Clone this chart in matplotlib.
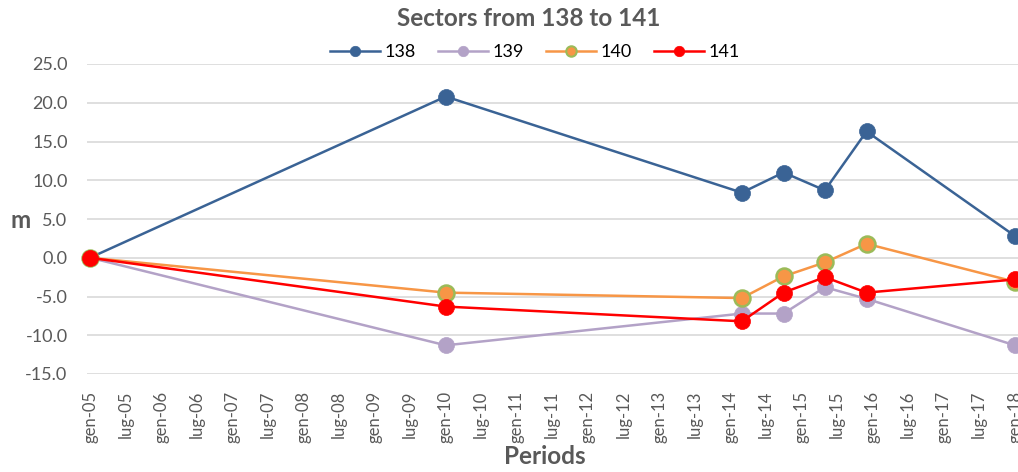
import datetime as dt
import matplotlib
matplotlib.use("Agg")
import matplotlib.pyplot as plt
import matplotlib.dates as mdates
from matplotlib.lines import Line2D

# Survey dates and measured displacement (m) per sector
dates = [dt.date(2005, 1, 1), dt.date(2010, 1, 1), dt.date(2014, 3, 1),
         dt.date(2014, 10, 1), dt.date(2015, 5, 1), dt.date(2015, 12, 1),
         dt.date(2018, 1, 1)]
s138 = [0.0, 20.8, 8.4, 11.0, 8.7, 16.3, 2.8]
s139 = [0.0, -11.3, -7.2, -7.2, -3.8, -5.3, -11.3]
s140 = [0.0, -4.5, -5.2, -2.4, -0.6, 1.8, -3.1]
s141 = [0.0, -6.3, -8.2, -4.5, -2.5, -4.5, -2.8]
series_names = ["138", "139", "140", "141"]

# Half-yearly ticks with Italian month abbreviations
tick_dates = [dt.date(y, m, 1) for y in range(2005, 2018) for m in (1, 7)] + [dt.date(2018, 1, 1)]
tick_labels = [f"{'gen' if d.month == 1 else 'lug'}-{d.year % 100:02d}" for d in tick_dates]
y_ticks = [-15, -10, -5, 0, 5, 10, 15, 20, 25]

FONT = "Lato"
GRAY = "#595959"
styles = {
    "138": dict(color="#3A6395", mfc="#3A6395", mec="#3A6395"),
    "139": dict(color="#B3A2C7", mfc="#B3A2C7", mec="#B3A2C7"),
    "140": dict(color="#F79646", mfc="#F79646", mec="#9BBB59"),
    "141": dict(color="#FF0000", mfc="#FF0000", mec="#FF0000"),
}

W, H = 1018, 472
fig = plt.figure(figsize=(W / 100, H / 100), dpi=100)
ax_left_px, ax_right_px, ax_top_px, ax_bot_px = 87, 1018, 64, 374
ax = fig.add_axes([ax_left_px / W, 1 - ax_bot_px / H,
                   (ax_right_px - ax_left_px) / W, (ax_bot_px - ax_top_px) / H])

for name, vals in zip(series_names, [s138, s139, s140, s141]):
    st = styles[name]
    ax.plot(dates, vals, color=st["color"], lw=1.8, marker="o", ms=11.5,
            mfc=st["mfc"], mec=st["mec"], mew=1.8 if name == "140" else 0.5,
            clip_on=False, zorder=3)

# x limits so that gen-05 and gen-18 sit just inside the gridlines
d0 = mdates.date2num(dt.date(2005, 1, 1))
d1 = mdates.date2num(dt.date(2018, 1, 1))
per_px = (d1 - d0) / (1015 - 90)
ax.set_xlim(d0 - (90 - ax_left_px) * per_px, d1 + (ax_right_px - 1015) * per_px)
ax.set_ylim(-15, 25)

ax.set_xticks([mdates.date2num(d) for d in tick_dates])
ax.set_xticklabels(tick_labels, rotation=90, fontfamily=FONT, fontsize=12, color=GRAY)
ax.set_yticks(y_ticks)
ax.set_yticklabels([f"{v:.1f}" for v in y_ticks], fontfamily=FONT, fontsize=13, color=GRAY)
ax.tick_params(axis="x", length=0, pad=12)
ax.tick_params(axis="y", length=0, pad=14)
for sp in ax.spines.values():
    sp.set_visible(False)
ax.grid(axis="y", color="#D9D9D9", lw=1.2)
ax.set_axisbelow(True)

fig.text(529 / W, 1 - 18 / H, "Sectors from 138 to 141", ha="center", va="center",
         fontfamily=FONT, fontsize=17.5, fontweight="bold", color=GRAY)
fig.text(21 / W, 1 - 221 / H, "m", ha="center", va="center",
         fontfamily=FONT, fontsize=17.5, fontweight="bold", color=GRAY)
fig.text(545 / W, 1 - 456 / H, "Periods", ha="center", va="center",
         fontfamily=FONT, fontsize=17.5, fontweight="bold", color=GRAY)

handles = [Line2D([], [], color=styles[n]["color"], lw=1.8, marker="o", ms=7.5,
                  mfc=styles[n]["mfc"], mec=styles[n]["mec"],
                  mew=1.5 if n == "140" else 0.5) for n in series_names]
leg = fig.legend(handles, series_names, loc="center", bbox_to_anchor=(535 / W, 1 - 52 / H),
                 ncol=4, frameon=False, handlelength=2.8, handletextpad=0.25,
                 columnspacing=1.2, prop={"family": FONT, "size": 13})

fig.savefig("out.png", dpi=100)
